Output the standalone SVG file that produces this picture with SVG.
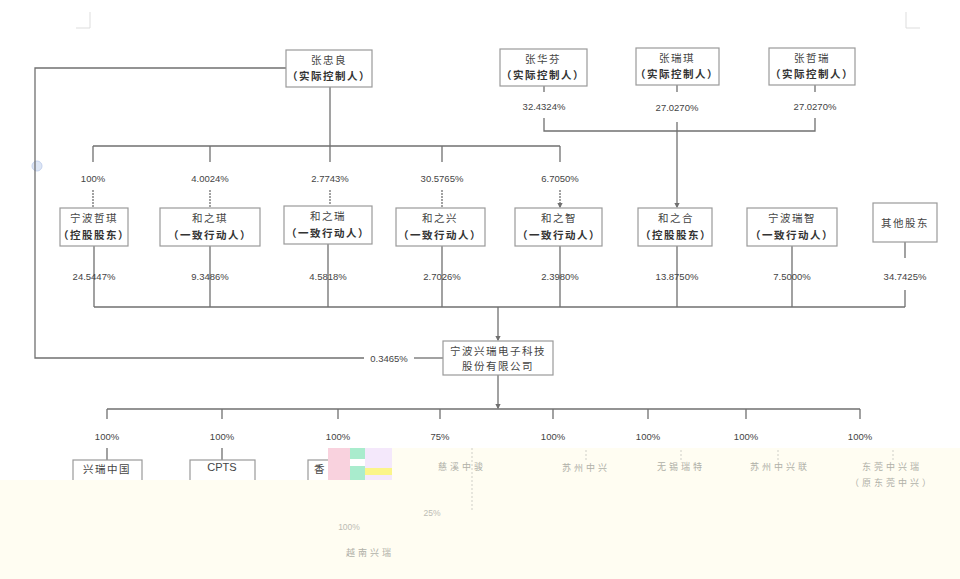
<svg xmlns="http://www.w3.org/2000/svg" width="960" height="579" viewBox="0 0 960 579">
<style>
.bx{fill:#fff;stroke:#9a9a9a;stroke-width:1.2}
.ln{fill:none;stroke:#707070;stroke-width:1.3}
.cn{font-family:"Noto Sans CJK SC","Liberation Serif",serif;font-size:10.5px;fill:#444;text-anchor:middle;letter-spacing:1.5px}
.b{font-weight:bold;fill:#333}
.pc{font-family:"Liberation Sans",Arial,sans-serif;font-size:9.5px;fill:#444;text-anchor:middle}
.fd{font-family:"Noto Sans CJK SC","Liberation Serif",serif;font-size:9px;fill:#b0b0a8;text-anchor:middle;letter-spacing:3px}
.fp{font-family:"Liberation Sans",Arial,sans-serif;font-size:8.5px;fill:#bcbcb4;text-anchor:middle}
</style>
<defs>
<marker id="ar" markerWidth="6" markerHeight="6" refX="3" refY="3" orient="auto"><path d="M0,1 L4,3 L0,5 Z" fill="#707070"/></marker>
</defs>
<rect width="960" height="579" fill="#fff"/>
<g id="marks" stroke="#ddd" fill="none">
<path d="M90,12 V28 H76"/><path d="M906,12 V28 H920"/>
<circle cx="37" cy="166" r="5" fill="#dde6f5" stroke="#c4d2ee"/>
</g>
<g id="connectors">
<path class="ln" d="M286,68 H35 V358 H364"/>
<path class="ln" d="M414,358 H443"/>
<path class="ln" d="M330,87 V146"/>
<path class="ln" d="M93,146 H560 M93,146 V162 M210,146 V162 M330,146 V162 M442,146 V162 M560,146 V162"/>
<path class="ln" stroke-dasharray="2,1" marker-end="url(#ar)" d="M93,190 V207 M210,190 V207 M330,190 V205 M442,190 V207 M560,190 V207"/>
<path class="ln" d="M544,86 V92 M677,85 V92 M815,85 V92"/>
<path class="ln" d="M544,118 V131 H815 V118"/>
<path class="ln" marker-end="url(#ar)" d="M677,122 V207"/>
<path class="ln" d="M94,246 V307 M210,246 V307 M328,244 V307 M442,246 V307 M560,246 V307 M677,246 V307 M792,246 V307 M905,242 V258 M905,290 V307 M94,307 H905"/>
<path class="ln" marker-end="url(#ar)" d="M498,307 V340"/>
<path class="ln" marker-end="url(#ar)" d="M498,375 V408"/>
<path class="ln" d="M107,409 H860 M107,409 V419 M222,409 V419 M338,409 V419 M440,409 V419 M553,409 V419 M648,409 V419 M746,409 V419 M860,409 V419"/>
<path class="ln" d="M107,448 V460 M222,448 V460"/>
</g>
<g id="n-zhangzl"><rect class="bx" x="286" y="50" width="86" height="37"/><text class="cn" x="329" y="64">张忠良</text><text class="cn b" x="329" y="80">（实际控制人）</text></g>
<g id="n-zhanghf"><rect class="bx" x="500" y="49" width="87" height="37"/><text class="cn" x="543" y="63">张华芬</text><text class="cn b" x="543" y="79">（实际控制人）</text></g>
<g id="n-zhangrq"><rect class="bx" x="636" y="48" width="83" height="37"/><text class="cn" x="677" y="62">张瑞琪</text><text class="cn b" x="677" y="78">（实际控制人）</text></g>
<g id="n-zhangzr"><rect class="bx" x="769" y="48" width="86" height="37"/><text class="cn" x="812" y="62">张哲瑞</text><text class="cn b" x="812" y="78">（实际控制人）</text></g>
<g id="labels-top">
<text class="pc" x="93" y="182">100%</text><text class="pc" x="210" y="182">4.0024%</text><text class="pc" x="330" y="182">2.7743%</text><text class="pc" x="442" y="182">30.5765%</text><text class="pc" x="560" y="182">6.7050%</text>
<text class="pc" x="544" y="110">32.4324%</text><text class="pc" x="677" y="111">27.0270%</text><text class="pc" x="815" y="110">27.0270%</text>
</g>
<g id="n-zheqi"><rect class="bx" x="60" y="208" width="68" height="38"/><text class="cn" x="94" y="222">宁波哲琪</text><text class="cn b" x="94" y="239">（控股股东）</text></g>
<g id="n-hezhiqi"><rect class="bx" x="160" y="208" width="100" height="38"/><text class="cn" x="210" y="222">和之琪</text><text class="cn b" x="210" y="239">（一致行动人）</text></g>
<g id="n-hezhirui"><rect class="bx" x="284" y="206" width="88" height="38"/><text class="cn" x="328" y="220">和之瑞</text><text class="cn b" x="328" y="237">（一致行动人）</text></g>
<g id="n-hezhixing"><rect class="bx" x="396" y="208" width="89" height="38"/><text class="cn" x="440" y="222">和之兴</text><text class="cn b" x="440" y="239">（一致行动人）</text></g>
<g id="n-hezhizhi"><rect class="bx" x="515" y="208" width="87" height="38"/><text class="cn" x="559" y="222">和之智</text><text class="cn b" x="559" y="239">（一致行动人）</text></g>
<g id="n-hezhihe"><rect class="bx" x="638" y="208" width="74" height="38"/><text class="cn" x="676" y="222">和之合</text><text class="cn b" x="676" y="239">（控股股东）</text></g>
<g id="n-ruizhi"><rect class="bx" x="747" y="208" width="90" height="38"/><text class="cn" x="792" y="222">宁波瑞智</text><text class="cn b" x="792" y="239">（一致行动人）</text></g>
<g id="n-others"><rect class="bx" x="873" y="203" width="64" height="39"/><text class="cn" x="905" y="227">其他股东</text></g>
<g id="labels-mid">
<text class="pc" x="94" y="280">24.5447%</text><text class="pc" x="210" y="280">9.3486%</text><text class="pc" x="328" y="280">4.5818%</text><text class="pc" x="442" y="280">2.7026%</text><text class="pc" x="560" y="280">2.3980%</text><text class="pc" x="677" y="280">13.8750%</text><text class="pc" x="792" y="280">7.5000%</text><text class="pc" x="905" y="280">34.7425%</text>
<text class="pc" x="389" y="362">0.3465%</text>
</g>
<g id="n-company"><rect class="bx" x="443" y="341" width="110" height="34"/><text class="cn" x="498" y="355">宁波兴瑞电子科技</text><text class="cn" x="498" y="370">股份有限公司</text></g>
<g id="labels-bot">
<text class="pc" x="107" y="440">100%</text><text class="pc" x="222" y="440">100%</text><text class="pc" x="338" y="440">100%</text><text class="pc" x="440" y="440">75%</text><text class="pc" x="553" y="440">100%</text><text class="pc" x="648" y="440">100%</text><text class="pc" x="746" y="440">100%</text><text class="pc" x="860" y="440">100%</text>
</g>
<g id="n-xrchina"><rect class="bx" x="73" y="460" width="69" height="30"/><text class="cn" x="107" y="473">兴瑞中国</text></g>
<g id="n-cpts"><rect class="bx" x="190" y="460" width="65" height="30"/><text class="pc" x="222" y="471" style="font-size:11px">CPTS</text></g>
<g id="n-hk"><rect class="bx" x="308" y="460" width="30" height="30"/><text class="cn" x="314" y="473" style="text-anchor:start;letter-spacing:0">香</text></g>
<g id="glitch">
<rect x="328" y="448" width="22" height="32" fill="#f9d2de"/>
<rect x="350" y="448" width="15" height="11" fill="#a9eccd"/>
<rect x="350" y="466" width="15" height="14" fill="#a9eccd"/>
<rect x="365" y="448" width="27" height="20" fill="#f4e8fb"/>
<rect x="365" y="468" width="27" height="7" fill="#fbf58a"/>
<rect x="365" y="475" width="27" height="5" fill="#f4e8fb"/>
</g>
<path id="cream" d="M392,448 H960 V579 H0 V480 H392 Z" fill="#fffdf2"/>
<g id="faded">
<path stroke="#cfcfc8" fill="none" stroke-dasharray="2,2" d="M472,448 V510 M586,450 V462 M681,450 V462 M778,450 V462 M893,450 V462"/>
<text class="fd" x="462" y="470">慈溪中骏</text>
<text class="fd" x="586" y="471">苏州中兴</text>
<text class="fd" x="681" y="470">无锡瑞特</text>
<text class="fd" x="780" y="470">苏州中兴联</text>
<text class="fd" x="892" y="470">东莞中兴瑞</text>
<text class="fd" x="892" y="486">（原东莞中兴）</text>
<text class="fp" x="432" y="516">25%</text>
<text class="fp" x="349" y="530">100%</text>
<text class="fd" x="370" y="556">越南兴瑞</text>
</g>
</svg>
